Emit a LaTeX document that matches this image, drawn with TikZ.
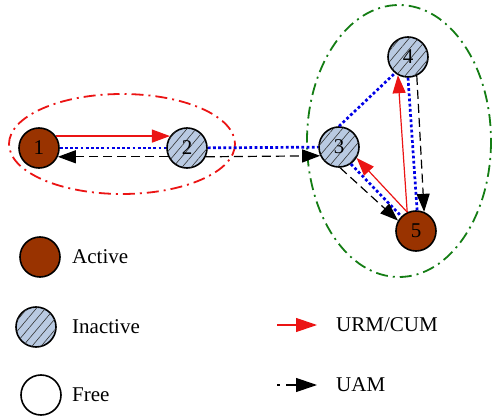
\documentclass[tikz,border=0pt]{standalone}
\usepackage{fontspec}
\setmainfont{Liberation Serif}
\usetikzlibrary{arrows.meta,patterns.meta}
\definecolor{activefill}{RGB}{153,51,0}
\definecolor{inactivefill}{RGB}{185,202,226}
\definecolor{grpred}{RGB}{235,20,20}
\definecolor{grpgreen}{RGB}{20,125,20}
\definecolor{linkblue}{RGB}{0,0,230}
\begin{document}
\begin{tikzpicture}[x=1pt,y=-1pt,
  every node/.style={font=\fontsize{21}{25}\selectfont},
  station/.style={circle,draw=black,line width=1.6pt,minimum size=40pt,inner sep=0pt},
  active/.style={station,fill=activefill},
  inactive/.style={station,fill=inactivefill,
    postaction={pattern={Lines[angle=50,distance=7pt,line width=0.6pt]},pattern color=black!80}},
  free/.style={station,fill=white},
  urm/.style={draw=grpred,line width=1.2pt,-{Triangle[length=18pt,width=13pt]}},
  uam/.style={draw=black,line width=1.2pt,dash pattern=on 9pt off 5pt,-{Triangle[length=18pt,width=13pt]}},
  bigtip/.style={-{Triangle[length=21pt,width=14pt]}},
  link/.style={draw=linkblue,line width=2.7pt,dash pattern=on 2.8pt off 2.4pt},
  group/.style={line width=1.8pt,dash pattern=on 12pt off 5pt on 2pt off 5pt},
  legendtext/.style={anchor=west,inner sep=0pt}
]
\useasboundingbox (0,0) rectangle (493,417);

% stations
\node[active]   (n1) at (39,148)  {1};
\node[inactive] (n2) at (187,148) {2};
\node[inactive] (n3) at (339,147) {3};
\node[inactive] (n4) at (408,57)  {4};
\node[active]   (n5) at (416,231) {5};

% groups
\draw[group,grpred]   (122,144) ellipse [x radius=113, y radius=50];
\draw[group,grpgreen] (399,141) ellipse [x radius=92, y radius=136];

% links
\draw[link] (n1) -- (n2);
\draw[link] (n2) -- (n3);
\draw[link] (n3.90)  -- (n4.231);
\draw[link] (n3.305) -- (n5.135);
\draw[link] (n4.270) -- (n5.87);

% messages
\draw[urm] (n1.35)  -- (n2.145);
\draw[uam] (n2.205) -- (n1.-25);
\draw[uam] (n2.-25) -- (n3.205);
\draw[urm] (n5.115) -- (n4.241);
\draw[urm] (n5.115) -- (n3.328);
\draw[uam] (n4.295) -- (n5.67);
\draw[uam] (n3.273) -- (n5.150);

% legend
\node[active]   (la) at (40,257) {};
\node[legendtext] (ta) at (72,257) {Active};
\node[inactive] (li) at (36,327) {};
\node[legendtext] (ti) at (72,327) {Inactive};
\node[free]     (lf) at (41,395) {};
\node[legendtext] (tf) at (72,395) {Free};

\coordinate (ur0) at (277,325);
\coordinate (ur1) at (317,325);
\draw[urm,bigtip] (ur0) -- (ur1);
\node[legendtext] (tu) at (336,325) {URM/CUM};
\coordinate (ua0) at (277,385);
\coordinate (ua1) at (317,385);
\draw[uam,bigtip,dash pattern=on 3pt off 6pt on 20pt off 1pt] (ua0) -- (ua1);
\node[legendtext] (tm) at (336,385) {UAM};
\end{tikzpicture}
\end{document}
